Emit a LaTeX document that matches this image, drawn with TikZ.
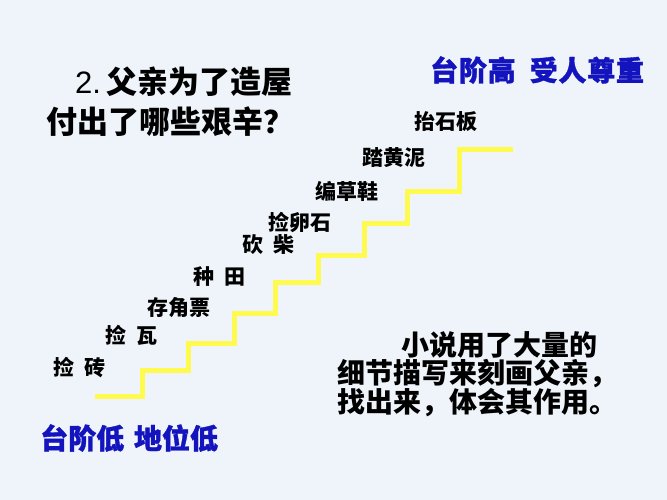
\documentclass[tikz,border=0pt]{standalone}
\usepackage{fontspec}
\setmainfont{Liberation Sans}
\newfontfamily\cjk{Noto Sans CJK SC}
\newfontfamily\cjkheavy[FakeBold=1.2]{Noto Sans CJK SC}
\definecolor{bgc}{RGB}{238,244,250}
\definecolor{stair}{RGB}{255,250,80}
\definecolor{deepblue}{RGB}{20,20,190}
\tikzset{
  steplabel/.style={anchor=west, inner sep=0pt, font=\cjk\bfseries\fontsize{21}{21}\selectfont, text=black},
  bluelabel/.style={anchor=west, inner sep=0pt, font=\cjkheavy\bfseries\fontsize{28}{28}\selectfont, text=deepblue},
  titletext/.style={anchor=west, inner sep=0pt, font=\cjk\bfseries\fontsize{31}{40}\selectfont, text=black, align=left},
  bodytext/.style={anchor=north west, inner sep=0pt, font=\cjk\bfseries\fontsize{28}{28}\selectfont, text=black, align=left},
  stairline/.style={draw=stair, line width=5pt, line join=miter}
}
\begin{document}
\begin{tikzpicture}[x=1pt,y=-1pt]
\fill[bgc] (0,0) rectangle (667,500);
\useasboundingbox (0,0) rectangle (667,500);
% stairs
\draw[stairline] (95,396) -- (142,396) -- (142,370) -- (188,370) -- (188,343) -- (234,343) -- (234,313) -- (275,313) -- (275,282) -- (318,282) -- (318,255) -- (364,255) -- (364,223) -- (407,223) -- (407,192) -- (459,192) -- (459,150) -- (513,150);
% title
\node[titletext] (t1) at (75,82) {{\mdseries\fontspec{Liberation Sans}2.}\,父亲为了造屋};
\node[titletext] (t2) at (46,122) {付出了哪些艰辛？};
% blue labels
\node[bluelabel] (hi) at (430,70) {台\hspace{0.75pt}阶\hspace{0.75pt}高\hspace{0.5em}受\hspace{0.75pt}人\hspace{0.75pt}尊\hspace{0.75pt}重};
\node[bluelabel] (lo) at (40,438) {台阶低\hspace{0.35em}地位低};
% step labels
\node[steplabel] (s9) at (414,122) {抬石板};
\node[steplabel] (s8) at (362,158) {踏黄泥};
\node[steplabel] (s7) at (315,191) {编草鞋};
\node[steplabel] (s6) at (268,222) {捡卵石};
\node[steplabel] (s5) at (242,245) {砍\hspace{0.5em}柴};
\node[steplabel] (s4) at (193,277) {种\hspace{0.5em}田};
\node[steplabel] (s3) at (147,308) {存角票};
\node[steplabel] (s2) at (105,335) {捡\hspace{0.5em}瓦};
\node[steplabel] (s1) at (53,368) {捡\hspace{0.5em}砖};
% body text
\node[bodytext] (body) at (337,331) {\hspace{2.3em}小说用了大量的\\细节描写来刻画父亲，\\找出来，体会其作用。};
\end{tikzpicture}
\end{document}
